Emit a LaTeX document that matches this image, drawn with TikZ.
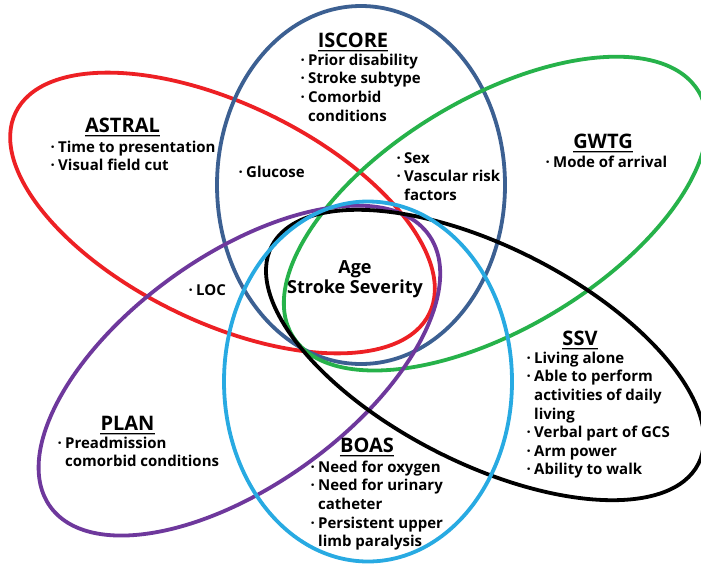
\documentclass[tikz,border=0pt]{standalone}
\usepackage{fontspec}
\setmainfont{Open Sans}
\definecolor{cred}{RGB}{237,32,36}
\definecolor{cblue}{RGB}{60,96,146}
\definecolor{cgreen}{RGB}{38,178,74}
\definecolor{ccyan}{RGB}{40,170,226}
\definecolor{cpurple}{RGB}{110,56,156}
\newcommand\bu{\rule{0pt}{12pt}\makebox[7.5pt][l]{·}}
\newcommand\ind{\makebox[7.5pt][l]{}}
\begin{document}
\begin{tikzpicture}[x=1pt,y=-1pt,
  loopline/.style={line width=3.8pt},
  items/.style={anchor=north west,inner sep=0pt,align=left,font=\bfseries\fontsize{15}{18.6}\selectfont},
  ttl/.style={anchor=base,inner sep=0pt,font=\bfseries\fontsize{20}{24}\selectfont},
  uline/.style={line width=1.4pt},
  ushadow/.style={line width=1.2pt,black!35}]
\useasboundingbox[fill=white] (0,0) rectangle (701,563);
% ASTRAL (red)
\draw[loopline,cred,rotate around={-25.9:(222.5,213)}] (222.5,213) ellipse [x radius=230,y radius=109];
% ISCORE (blue)
\draw[loopline,cblue] (361,185) ellipse [x radius=144,y radius=179];
% GWTG (green)
\draw[loopline,cgreen,rotate around={31:(495.5,213.6)}] (495.5,213.6) ellipse [x radius=237,y radius=115];
% PLAN (purple)
\draw[loopline,cpurple,rotate around={35.7:(239.4,370.6)}] (239.4,370.6) ellipse [x radius=233,y radius=115];
% SSV (black)
\draw[loopline,black,rotate around={-27:(485,355)}] (485,355) ellipse [x radius=239.5,y radius=108];
% BOAS (cyan)
\draw[loopline,ccyan] (368,381.5) ellipse [x radius=144,y radius=180];
% titles
\node[ttl] (tastral) at (122.5,132) {ASTRAL};
\node[ttl] (tiscore) at (353,47) {ISCORE};
\node[ttl] (tgwtg) at (603,148) {GWTG};
\node[ttl] (tssv) at (580,345) {SSV};
\node[ttl] (tplan) at (127.5,430) {PLAN};
\node[ttl] (tboas) at (367,452) {BOAS};
\foreach \t in {tastral,tiscore,tgwtg,tssv,tplan,tboas}{
  \draw[ushadow] ([yshift=-4.6pt]\t.base west) -- ([yshift=-4.6pt]\t.base east);
  \draw[uline] ([yshift=-3.2pt]\t.base west) -- ([yshift=-3.2pt]\t.base east);}
% items
\node[items] (iastral) at (50.5,140) {\bu Time to presentation\\\bu Visual field cut};
\node[items] (iiscore) at (300.5,53) {\bu Prior disability\\\bu Stroke subtype\\\bu Comorbid\\\ind conditions};
\node[items] (iglucose) at (238.5,165) {\bu Glucose};
\node[items] (isex) at (396.5,151) {\bu Sex\\\bu Vascular risk\\\ind factors};
\node[items] (igwtg) at (545.5,155) {\bu Mode of arrival};
\node[items] (iloc) at (188.5,283) {\bu LOC};
\node[items] (issv) at (526.5,351) {\bu Living alone\\\bu Able to perform\\\ind activities of daily\\\ind living\\\bu Verbal part of GCS\\\bu Arm power\\\bu Ability to walk};
\node[items] (iplan) at (57.5,436) {\bu Preadmission\\\ind comorbid conditions};
\node[items] (iboas) at (310.5,460) {\bu Need for oxygen\\\bu Need for urinary\\\ind catheter\\\bu Persistent upper\\\ind limb paralysis};
\node[inner sep=0pt,anchor=north,align=center,font=\bfseries\fontsize{18}{20}\selectfont] (icenter) at (355,259) {\rule{0pt}{14pt}Age\\Stroke Severity};
\end{tikzpicture}
\end{document}
